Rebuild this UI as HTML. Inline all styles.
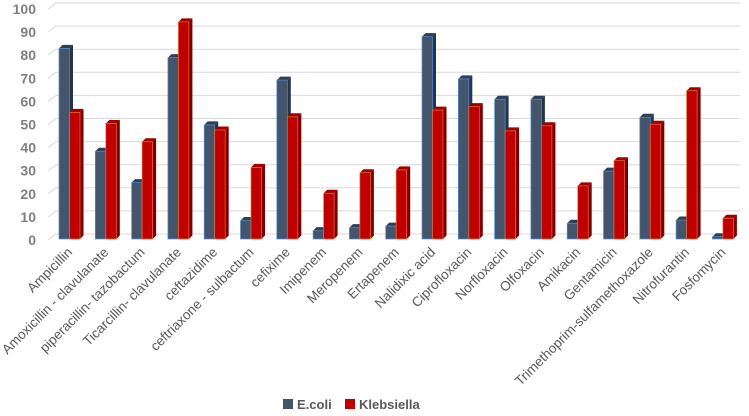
<!DOCTYPE html>
<html><head><meta charset="utf-8"><style>
body{margin:0;background:#fff;}
svg{display:block;font-family:"Liberation Sans",sans-serif;}
</style></head><body>
<svg id="chart" width="749" height="416" viewBox="0 0 749 416">
<g id="grid"></g>
<g id="yticks"></g>
<g id="bars"></g>
<g id="xlabels"></g>
<g>
  <g><rect x="283" y="399" width="10" height="10" fill="#44546a"/><text x="297" y="409" font-size="13" font-weight="bold" fill="#595959">E.coli</text></g>
  <g><rect x="345" y="399" width="10" height="10" fill="#c00000"/><text x="359" y="409" font-size="13" font-weight="bold" fill="#595959">Klebsiella</text></g>
</g>
</svg>
<script>
const categories=["Ampicillin","Amoxicillin - clavulanate","piperacillin- tazobactum","Ticarcillin- clavulanate","ceftazidime","ceftriaxone - sulbactum","cefixime","Imipenem","Meropenem","Ertapenem","Nalidixic acid","Ciprofloxacin","Norfloxacin","Olfoxacin","Amikacin","Gentamicin","Trimethoprim-sulfamethoxazole","Nitrofurantin","Fosfomycin"];
const ecoli=[82.5,38,24.4,78.5,49.4,8,68.8,3.6,4.9,5.6,87.6,69.3,60.5,60.5,6.8,29.4,52.7,8.2,1];
const klebsiella=[54.8,50,42.1,94,47.2,31,52.9,19.8,28.7,29.9,55.8,57.3,46.8,49,23,33.9,49.7,64.2,9];
const yTicks=[0,10,20,30,40,50,60,70,80,90,100];
const NS="http://www.w3.org/2000/svg";
const base=239, scale=2.31;
const y=v=>base-v*scale;
const x=i=>70+i*36.3;
function mk(tag,attrs,parent){const e=document.createElementNS(NS,tag);for(const k in attrs)e.setAttribute(k,attrs[k]);parent.appendChild(e);return e;}
const grid=document.getElementById('grid'),yt=document.getElementById('yticks'),bars=document.getElementById('bars'),xl=document.getElementById('xlabels');
yTicks.forEach(t=>{
  const l=mk('polyline',{points:`48,${y(t)+1} 56,${y(t)-5} 740,${y(t)-5}`,fill:'none',stroke:'#d9d9d9','stroke-width':1},grid);
  
  
  const tx=mk('text',{x:36,y:y(t)+6,'text-anchor':'end','font-size':14,'font-weight':'bold',fill:'#7f7f7f'},yt);
  
  
  tx.textContent=t;
});
function bar(x0,v,front,side,top,edge,name){
  const g=mk('g',{},bars);
  
  
  const w=10.5,d=3.5,yt0=y(v);
  mk('polygon',{points:`${x0+w},${yt0} ${x0+w+d},${yt0-d} ${x0+w+d},${base-d} ${x0+w},${base}`,fill:side},g);
  mk('polygon',{points:`${x0},${yt0} ${x0+d},${yt0-d} ${x0+w+d},${yt0-d} ${x0+w},${yt0}`,fill:top},g);
  mk('rect',{x:x0,y:yt0,width:w,height:base-yt0,fill:front,stroke:edge,'stroke-width':0.7},g);
}
categories.forEach((c,i)=>{
  const cx=x(i);
  bar(cx-11,ecoli[i],'#44546a','#26344a','#2e3e56','#5b8fd0','bar-ecoli-'+i);
  bar(cx-0.5,klebsiella[i],'#c00000','#7a0000','#a00000','#f07030','bar-klebsiella-'+i);
  const t=mk('text',{x:0,y:0,'text-anchor':'end','font-size':13.5,fill:'#595959',transform:`translate(${cx+3},${base+14}) rotate(-45)`},xl);
  
  
  t.textContent=c;
});
</script>
</body></html>
